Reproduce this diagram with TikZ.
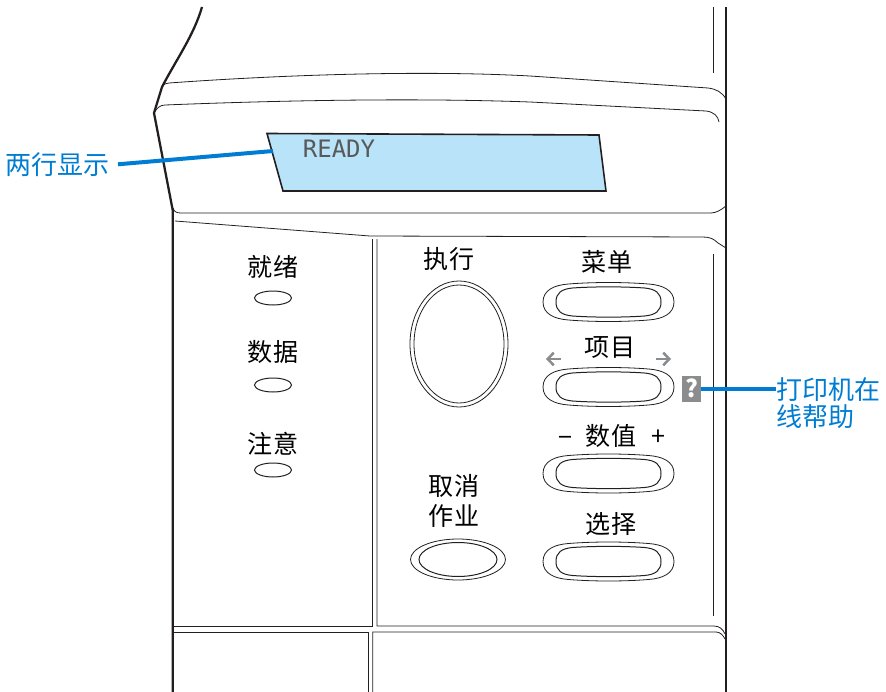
\documentclass[tikz,border=0pt]{standalone}
\usepackage{fontspec}
\setmainfont{Noto Sans CJK SC}
\newfontfamily\lcdfont{DejaVu Sans Mono}
\usetikzlibrary{arrows.meta}
\definecolor{leaderblue}{RGB}{0,125,210}
\definecolor{lcdblue}{RGB}{184,227,248}
\definecolor{helpgray}{RGB}{138,140,142}
\definecolor{inkblack}{RGB}{35,31,32}
\tikzset{
	heavy/.style={draw=inkblack,line width=1.7pt},
	thin line/.style={draw=inkblack,line width=0.6pt},
	key line/.style={draw=inkblack,line width=0.75pt},
	keylabel/.style={font=\fontsize{18.8}{22}\selectfont,text=black,inner sep=0pt},
	calllabel/.style={font=\fontsize{19.5}{20.4}\selectfont,text=leaderblue,inner sep=0pt},
	leader/.style={draw=leaderblue,line width=3pt},
	keyarrow/.style={draw=helpgray,line width=1.9pt,-{Straight Barb[length=4.5pt,width=9.5pt,line width=1.9pt]}},
}
\begin{document}
\begin{tikzpicture}[x=0.75pt,y=-0.75pt]
	\useasboundingbox (0,0) rectangle (886,692);
	% body outline
	\draw[heavy] (202,7) .. controls (194,35) and (176,60) .. (162,87) -- (154,113) -- (172.7,210) -- (172.7,692);
	\draw[heavy] (726,7) -- (726,692);
	% bezel lines
	\draw[thin line] (162,87) .. controls (164,84) and (166,83) .. (169,83) .. controls (280,75) and (420,70) .. (530,76) -- (708,88) .. controls (716,89) and (722,92) .. (726,99);
	\draw[thin line] (154,113) .. controls (157,108) and (160,105) .. (165,105) .. controls (290,100) and (420,98) .. (530,102) -- (706,111) .. controls (714,112) and (718,116) .. (719,122);
	\draw[thin line] (173,208) .. controls (174,212) and (177,213) .. (181,213) -- (711,213) .. controls (716,213) and (721,210) .. (726,206);
	\draw[thin line] (175,221) -- (370,236) -- (703,237) .. controls (710,237) and (714,239) .. (718,243) -- (726,248);
	\draw[thin line] (713,7) -- (713,73);
	\draw[thin line] (713,254) -- (713,616);
	% panel dividers
	\draw[thin line] (372,239) -- (372,626) -- (173,626);
	\draw[thin line] (377,239) -- (377,626) -- (714,626) .. controls (719,626) and (723,629) .. (725,634);
	\draw[thin line] (173,632) -- (368,632) -- (368,692);
	\draw[thin line] (372.7,692) -- (372.7,632) -- (716,632) .. controls (720,632) and (723,635) .. (725,639);
	% display
	\draw[fill=lcdblue,draw=inkblack,line width=1.2pt] (267,133.5) -- (283,191) -- (606,191) -- (599,135) -- cycle;
	\node[font=\fontsize{18}{20}\lcdfont,text=black!65,inner sep=0pt] (readytext) at (339,149) {READY};
	\coordinate (lcdedge) at (273,151);
	% lamps
	\foreach \posy in {298,385,470}
		\draw[key line] (273,\posy) ellipse (18.5 and 7);
	% long keys
	\foreach \posy in {302,387,473.5,561.5}{
		\begin{scope}[shift={(608.5,\posy)}]
			\draw[thin line] (-65.5,0) .. controls (-65.5,-12) and (-54,-17) .. (-40,-18) .. controls (-15,-20) and (15,-20) .. (40,-18) .. controls (54,-17) and (65.5,-12) .. (65.5,0) .. controls (65.5,12) and (54,17) .. (40,18) .. controls (15,20) and (-15,20) .. (-40,18) .. controls (-54,17) and (-65.5,12) .. (-65.5,0) -- cycle;
			\draw[key line] (-52.5,0) .. controls (-52.5,-9) and (-47,-13) .. (-36,-14) .. controls (-15,-15.5) and (15,-15.5) .. (36,-14) .. controls (47,-13) and (52.5,-9) .. (52.5,0) .. controls (52.5,9) and (47,13) .. (36,14) .. controls (15,15.5) and (-15,15.5) .. (-36,14) .. controls (-47,13) and (-52.5,9) .. (-52.5,0) -- cycle;
		\end{scope}
	}
	% round keys
	\draw[thin line] (459,344) ellipse (49 and 63);
	\draw[thin line] (459,344) ellipse (45 and 59);
	\draw[thin line] (458,559.5) ellipse (47.5 and 20.5);
	\draw[key line] (458,559.5) ellipse (39 and 17);
	% key labels
	\node[keylabel] (ready) at (273,267) {就绪};
	\node[keylabel] (data) at (273,352) {数据};
	\node[keylabel] (attention) at (273,444) {注意};
	\node[keylabel] (go) at (449,259) {执行};
	\node[keylabel] (menu) at (607,262) {菜单};
	\node[keylabel] (item) at (610,348) {项目};
	\node[keylabel] (value) at (611,436) {数值};
	\node[keylabel] (minus) at (565,441) {−};
	\node[keylabel] (plus) at (658,438) {+};
	\node[keylabel,align=center] (cancel) at (454,501) {取消\\作业};
	\node[keylabel] (select) at (611,524) {选择};
	\draw[keyarrow] (561,359) -- (546,359);
	\draw[keyarrow] (656,359) -- (671,359);
	% help mark
	\node[fill=helpgray,minimum width=14.2pt,minimum height=19.5pt,inner sep=0pt,text=white,font=\fontsize{18}{19}\bfseries\selectfont] (helpbox) at (691.5,388.5) {?};
	% callouts
	\node[calllabel,anchor=east,inner xsep=6pt] (twolines) at (118,164.3) {两行显示};
	\node[calllabel,anchor=west,align=left] (helptext) at (776,403.5) {打印机在\\线帮助};
	\draw[leader] (twolines.east) -- (lcdedge);
	\draw[leader] (helpbox.east) -- (helptext.west |- helpbox.east);
\end{tikzpicture}
\end{document}
